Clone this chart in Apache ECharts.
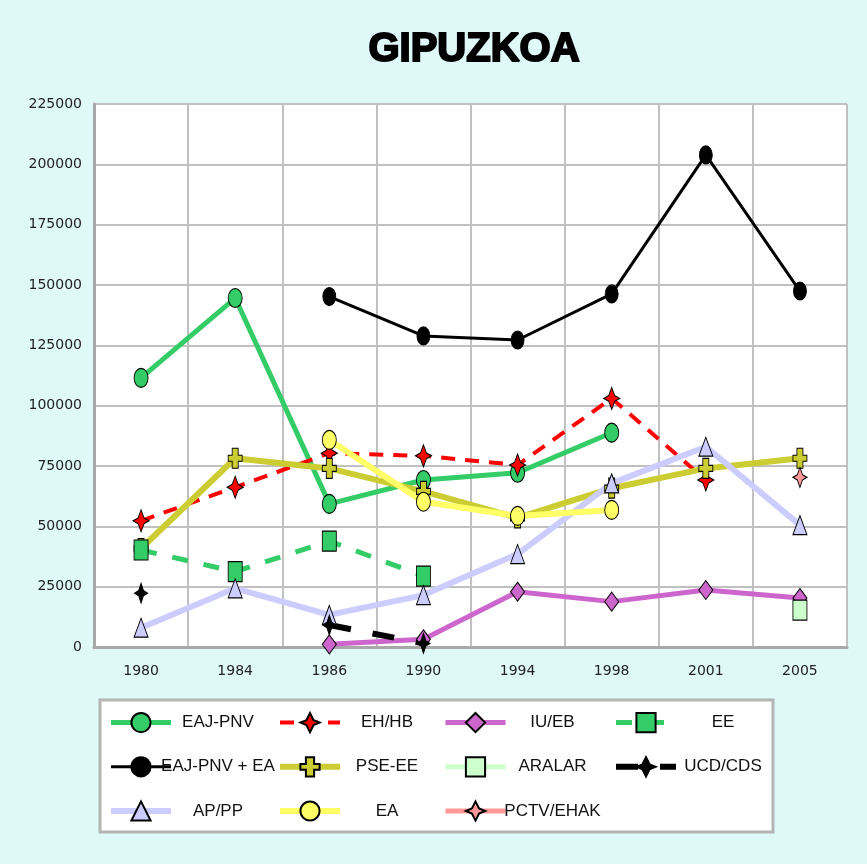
<!DOCTYPE html>
<html><head><meta charset="utf-8">
<script src="https://cdn.jsdelivr.net/npm/echarts@6/dist/echarts.min.js"></script>
<style>html,body{margin:0;padding:0;background:#dff8f8;}#c{width:867px;height:864px;}</style>
</head><body><div id="c"></div>
<script>
const years = ['1980','1984','1986','1990','1994','1998','2001','2005'];
const eajPnv = [111500, 144600, 59300, 69200, 72200, 88800, null, null];
const ehHb   = [52300, 66200, 80300, 79200, 75400, 103000, 69200, null];
const iuEb   = [null, null, 1100, 3200, 22900, 18800, 23600, 20300];
const ee     = [40200, 31200, 43900, 29400, null, null, null, null];
const eajEa  = [null, null, 145200, 128900, 127200, 146300, 203900, 147500];
const pseEe  = [40800, 78200, 74000, 64500, 53500, 65800, 74000, 78200];
const aralar = [null, null, null, null, null, null, null, 15300];
const ucdCds = [22300, null, 9100, 1500, null, null, null, null];
const apPp   = [8000, 24300, 13300, 21500, 38500, 67800, 83000, 50500];
const ea     = [null, null, 85800, 60200, 54300, 56800, null, null];
const pctv   = [null, null, null, null, null, null, null, 70300];
const yTicks = {min: 0, max: 225000, interval: 25000};

const STAR = 'path://M7,0 L9.6,7.4 L14,10 L9.6,12.6 L7,20 L4.4,12.6 L0,10 L4.4,7.4 Z';
const CROSS = 'path://M4,0 H10 V7 H14 V13 H10 V20 H4 V13 H0 V7 H4 Z';
const SZ = [14, 20];

function mk(name, data, color, width, symbol, fill, opts) {
  opts = opts || {};
  return {
    name: name, type: 'line', data: data, connectNulls: false,
    symbol: symbol, symbolSize: opts.size || SZ, showAllSymbol: true,
    lineStyle: {color: color, width: width, type: opts.dash || 'solid'},
    itemStyle: {color: fill, borderColor: '#000', borderWidth: 1},
    emphasis: {disabled: true}, animation: false
  };
}

const series = [
  mk('EAJ-PNV', eajPnv, '#33cc66', 5, 'circle', '#33cc66', {size: [14, 19]}),
  mk('EH/HB', ehHb, '#ff0000', 4, STAR, '#ff0000', {dash: [14, 10], size: [16, 22]}),
  mk('IU/EB', iuEb, '#cc66cc', 5, 'diamond', '#cc66cc', {size: [14, 19]}),
  mk('EAJ-PNV + EA', eajEa, '#000000', 3, 'circle', '#000000', {size: [13, 18]}),
  mk('PSE-EE', pseEe, '#cccc33', 6, CROSS, '#cccc33'),
  mk('EE', ee, '#33cc66', 5, 'rect', '#33cc66', {dash: [16, 16]}),
  mk('ARALAR', aralar, '#ccffcc', 5, 'rect', '#ccffcc'),
  mk('AP/PP', apPp, '#ccccff', 6, 'triangle', '#ccccff', {size: [14, 19]}),
  mk('UCD/CDS', ucdCds, '#000000', 6, STAR, '#000000', {dash: [22, 22], size: [13, 20]}),
  mk('EA', ea, '#ffff66', 6, 'circle', '#ffff66', {size: [14, 19]}),
  mk('PCTV/EHAK', pctv, '#ff9999', 5, STAR, '#ff9999', {size: [14, 20]})
];
const widthOf = {};
series.forEach(s => { widthOf[s.name] = s.lineStyle.width; });

const legendCols = [
  ['EAJ-PNV', 'EAJ-PNV + EA', 'AP/PP'],
  ['EH/HB', 'PSE-EE', 'EA'],
  ['IU/EB', 'ARALAR', 'PCTV/EHAK'],
  ['EE', 'UCD/CDS']
];
const colLeft = [108, 277, 443, 613];
const FONT = '"Liberation Sans", sans-serif';
const legends = legendCols.map((d, i) => ({
  data: d.map(n => ({name: n, lineStyle: {width: widthOf[n]}})),
  orient: 'vertical', left: colLeft[i], top: 712,
  itemWidth: 60, itemHeight: 24, itemGap: 23, padding: 0,
  selectedMode: false,
  formatter: n => '{a|' + n + '}',
  textStyle: {
    color: '#111', fontFamily: FONT, fontSize: 17,
    rich: {a: {width: 84, align: 'center', fontSize: 17, fontFamily: FONT, color: '#111'}}
  }
}));

const chart = echarts.init(document.getElementById('c'), null, {renderer: 'canvas'});
chart.setOption({
  backgroundColor: '#dff8f8',
  animation: false,
  graphic: [
    {type: 'rect', z: -1, shape: {x: 100, y: 700, width: 673, height: 132},
     style: {fill: '#fff', stroke: '#b4b4b4', lineWidth: 3}},
    {type: 'text', x: 474, y: 50, style: {text: 'GIPUZKOA', align: 'center', verticalAlign: 'middle',
     font: 'bold 40px "Liberation Sans", sans-serif', fill: '#000', stroke: '#000', lineWidth: 2}}
  ],
  legend: legends,
  grid: {left: 94, right: 20, top: 104, bottom: 217, show: true, backgroundColor: '#fff', borderWidth: 0},
  xAxis: {
    type: 'category', data: years, boundaryGap: true,
    axisLine: {lineStyle: {color: '#a8a8a8', width: 3}},
    axisTick: {show: false},
    splitLine: {show: true, lineStyle: {color: '#c0c0c0', width: 2}},
    axisLabel: {margin: 17, color: '#222', fontSize: 14, fontFamily: '"DejaVu Sans", sans-serif'}
  },
  yAxis: {
    type: 'value', min: yTicks.min, max: yTicks.max, interval: yTicks.interval,
    axisLine: {show: true, lineStyle: {color: '#a8a8a8', width: 3}},
    axisTick: {show: false},
    splitLine: {show: true, lineStyle: {color: '#c0c0c0', width: 2}},
    axisLabel: {margin: 12, color: '#222', fontSize: 14, fontFamily: '"DejaVu Sans", sans-serif',
      formatter: v => String(v)}
  },
  series: series
});
</script></body></html>
